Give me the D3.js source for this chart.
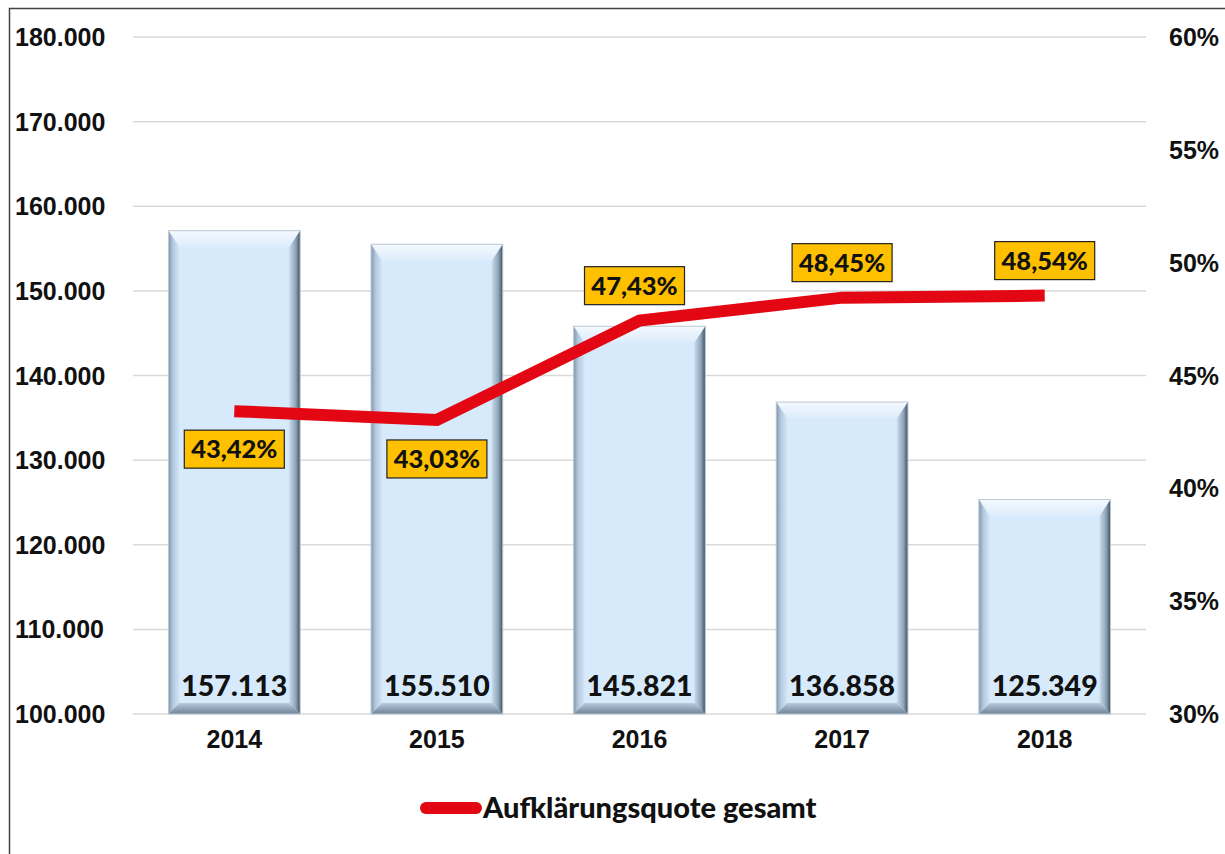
<!DOCTYPE html>
<html>
<head>
<meta charset="utf-8">
<script src="https://cdn.jsdelivr.net/npm/d3@7"></script>
<style>
  body { margin: 0; background: #fff; }
  svg { display: block; }
</style>
</head>
<body>
<div id="chart"></div>
<script>
const years = ["2014", "2015", "2016", "2017", "2018"];
const cases = [157113, 155510, 145821, 136858, 125349];
const quote = [43.42, 43.03, 47.43, 48.45, 48.54];
const quoteLabels = ["43,42%", "43,03%", "47,43%", "48,45%", "48,54%"];
const leftTicks = [100000, 110000, 120000, 130000, 140000, 150000, 160000, 170000, 180000];
const rightTicks = [30, 35, 40, 45, 50, 55, 60];
// label above (-1) or below (+1) the line, and how far
const labelSide = [1, 1, -1, -1, -1];
const labelDist = [38, 39, 35, 35, 35];

const W = 1225, H = 854;
const margin = {top: 37, right: 79, bottom: 140, left: 133};
const width = W - margin.left - margin.right;
const height = H - margin.top - margin.bottom;

const axisFont = "bold 25px 'Liberation Sans', Arial, sans-serif";
const labelFont = "'Lato', 'Open Sans', sans-serif";

const svg = d3.select("#chart").append("svg")
    .attr("width", W).attr("height", H);

// outer frame (runs off right and bottom edges)
svg.append("rect")
    .attr("x", 9.5).attr("y", 8.5)
    .attr("width", W + 20).attr("height", H + 20)
    .attr("fill", "none").attr("stroke", "#444").attr("stroke-width", 1.5);

const g = svg.append("g").attr("transform", `translate(${margin.left},${margin.top})`);

const x = d3.scaleBand().domain(years).range([0, width]).paddingInner(0.35).paddingOuter(0.175);
const y = d3.scaleLinear().domain([100000, 180000]).range([height, 0]);
const y2 = d3.scaleLinear().domain([30, 60]).range([height, 0]);

const fmtDE = d3.formatLocale({decimal: ",", thousands: ".", grouping: [3], currency: ["", "€"]}).format(",.0f");

// gridlines
g.append("g").selectAll("line").data(leftTicks).enter().append("line")
    .attr("x1", 0).attr("x2", width)
    .attr("y1", d => y(d)).attr("y2", d => y(d))
    .attr("stroke", "#d9d9d9").attr("stroke-width", 1.5);

// left axis labels
svg.append("g").selectAll("text").data(leftTicks).enter().append("text")
    .attr("x", 15)
    .attr("y", d => margin.top + y(d))
    .attr("dy", "0.36em")
    .style("font", axisFont)
    .attr("fill", "#111")
    .text(d => fmtDE(d));

// right axis labels
svg.append("g").selectAll("text").data(rightTicks).enter().append("text")
    .attr("x", 1169)
    .attr("y", d => margin.top + y2(d))
    .attr("dy", "0.36em")
    .style("font", axisFont)
    .attr("fill", "#111")
    .text(d => d + "%");

// x labels
g.append("g").selectAll("text").data(years).enter().append("text")
    .attr("x", d => x(d) + x.bandwidth() / 2)
    .attr("y", height + 34)
    .attr("text-anchor", "middle")
    .style("font", axisFont)
    .attr("fill", "#111")
    .text(d => d);

// gradients for bevelled bars
const defs = svg.append("defs");
function grad(id, x1, y1, x2, y2, stops) {
  const lg = defs.append("linearGradient").attr("id", id)
      .attr("x1", x1).attr("y1", y1).attr("x2", x2).attr("y2", y2);
  stops.forEach(s => lg.append("stop").attr("offset", s[0]).attr("stop-color", s[1]));
}
grad("bvTop", 0, 0, 0, 1, [[0, "#f4f9ff"], [1, "#dcecfb"]]);
grad("bvLeft", 0, 0, 1, 0, [[0, "#7f95ab"], [0.4, "#b3c8dd"], [1, "#d3e6f8"]]);
grad("bvRight", 0, 0, 1, 0, [[0, "#c9dcee"], [0.6, "#8ea3b8"], [1, "#3f4e5e"]]);
grad("bvBottom", 0, 0, 0, 1, [[0, "#b8cbdd"], [1, "#6f8396"]]);

const B = 11;
const bars = g.append("g").selectAll("g").data(years).enter().append("g");
bars.each(function(d, i) {
  const sel = d3.select(this);
  const x0 = x(d), x1 = x(d) + x.bandwidth();
  const y0 = y(cases[i]), y1 = y(100000);
  sel.append("rect").attr("x", x0).attr("y", y0).attr("width", x1 - x0).attr("height", y1 - y0)
      .attr("fill", "#d6eafc");
  sel.append("polygon").attr("fill", "url(#bvTop)")
      .attr("points", [[x0, y0], [x1, y0], [x1 - B, y0 + B * 1.5], [x0 + B, y0 + B * 1.5]].join(" "));
  sel.append("polygon").attr("fill", "url(#bvLeft)")
      .attr("points", [[x0, y0], [x0 + B, y0 + B * 1.5], [x0 + B, y1 - B], [x0, y1]].join(" "));
  sel.append("polygon").attr("fill", "url(#bvRight)")
      .attr("points", [[x1, y0], [x1, y1], [x1 - B, y1 - B], [x1 - B, y0 + B * 1.5]].join(" "));
  sel.append("polygon").attr("fill", "url(#bvBottom)")
      .attr("points", [[x0, y1], [x0 + B, y1 - B], [x1 - B, y1 - B], [x1, y1]].join(" "));
  sel.append("rect").attr("x", x0).attr("y", y0).attr("width", x1 - x0).attr("height", y1 - y0)
      .attr("fill", "none").attr("stroke", "#bcc8d4").attr("stroke-width", 1);
});

// values inside bars
g.append("g").selectAll("text").data(years).enter().append("text")
    .attr("x", d => x(d) + x.bandwidth() / 2)
    .attr("y", height - 18)
    .attr("text-anchor", "middle")
    .style("font-family", labelFont).style("font-weight", 900).style("font-size", "28.5px")
    .attr("fill", "#111")
    .text((d, i) => fmtDE(cases[i]));

// line
const line = d3.line()
    .x((d, i) => x(years[i]) + x.bandwidth() / 2)
    .y(d => y2(d));
g.append("path").datum(quote)
    .attr("d", line)
    .attr("fill", "none").attr("stroke", "#e30613").attr("stroke-width", 12)
    .attr("stroke-linejoin", "miter");

// percentage labels
const lab = g.append("g").selectAll("g").data(years).enter().append("g")
    .attr("transform", (d, i) => {
      const cx = x(d) + x.bandwidth() / 2 + (i === 2 ? -5 : 0);
      const cy = y2(quote[i]) + labelSide[i] * labelDist[i];
      return `translate(${cx},${cy})`;
    });
lab.append("rect")
    .attr("x", -50).attr("y", -19).attr("width", 100).attr("height", 38)
    .attr("fill", "#ffc000").attr("stroke", "#222").attr("stroke-width", 1.2);
lab.append("text")
    .attr("text-anchor", "middle").attr("dy", "0.36em")
    .style("font-family", labelFont).style("font-weight", 900).style("font-size", "25.5px")
    .attr("fill", "#111")
    .text((d, i) => quoteLabels[i]);

// legend
const lg = svg.append("g").attr("transform", "translate(0,808)");
lg.append("line").attr("x1", 426).attr("x2", 476).attr("y1", 0).attr("y2", 0)
    .attr("stroke", "#e30613").attr("stroke-width", 12).attr("stroke-linecap", "round");
lg.append("text").attr("x", 483).attr("dy", "0.36em")
    .style("font-family", labelFont).style("font-weight", 900).style("font-size", "29px")
    .attr("fill", "#111")
    .text("Aufklärungsquote gesamt");
</script>
</body>
</html>
